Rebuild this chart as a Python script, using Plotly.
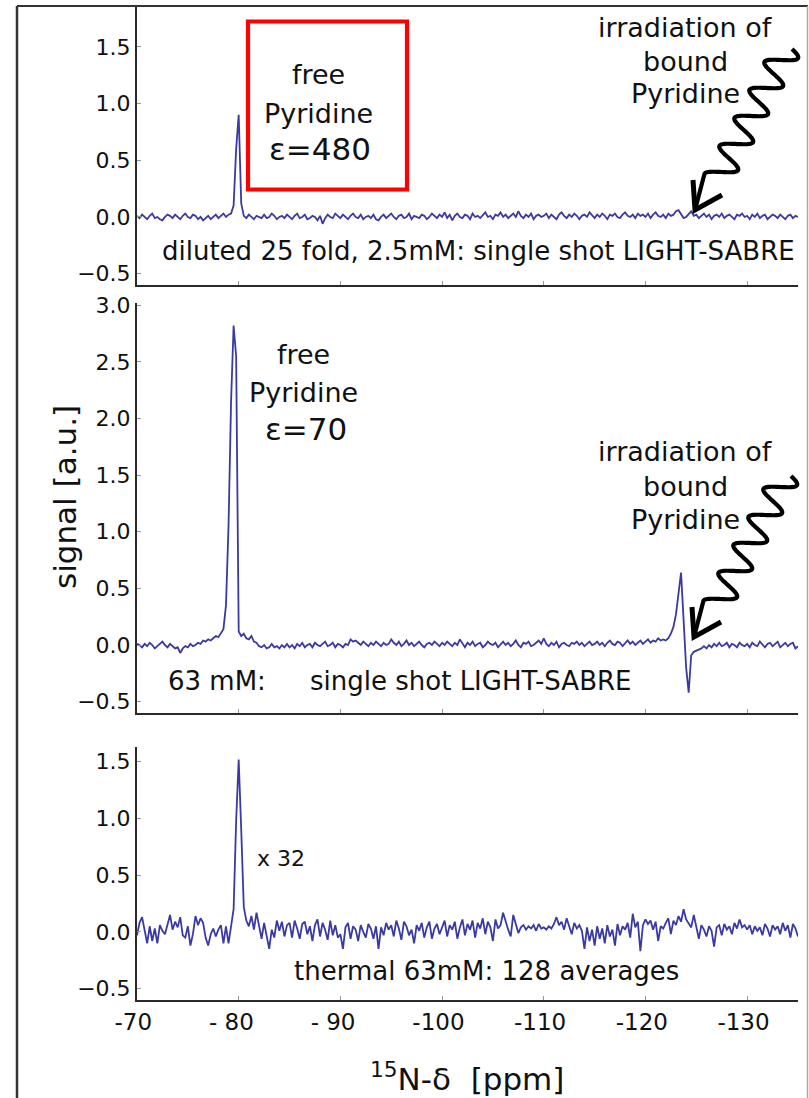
import numpy as np
import plotly.graph_objects as go

W, H = 809, 1098

# ---------------- data ----------------
PPM_START = -70.0
PPM_STEP = -0.25   # one sample every 0.25 ppm, -70 ... -135

diluted_signal = [
    0.01, -0.01, 0.02, 0.00, -0.02, 0.01, 0.03, -0.01, 0.00, -0.02, -0.03, 0.00, 0.02, 0.01, -0.01, 0.02, 0.00, -0.02, 0.01, 0.03,
    0.00, -0.01, 0.02, 0.01, -0.02, 0.00, -0.03, -0.01, 0.01, -0.02, 0.00, 0.02, -0.01, 0.01, 0.03, 0.00, 0.02, 0.03, 0.10, 0.60,
    0.90, 0.12, 0.01, -0.01, 0.02, 0.00, -0.02, 0.01, 0.00, -0.01, 0.02, -0.01, 0.00, 0.03, 0.01, -0.02, 0.00, 0.01, -0.01, 0.02,
    0.00, -0.02, 0.01, 0.03, -0.01, 0.00, 0.02, -0.02, -0.01, 0.01, 0.00, -0.03, 0.01, -0.06, -0.01, 0.02, 0.00, -0.01, 0.03, 0.01,
    -0.01, 0.02, 0.00, -0.02, 0.01, 0.03, 0.00, -0.01, 0.02, -0.02, 0.00, 0.01, -0.01, 0.02, -0.02, -0.03, 0.00, 0.02, -0.01, 0.01,
    0.03, 0.00, -0.02, 0.01, 0.02, -0.01, 0.00, 0.03, -0.02, 0.01, 0.00, -0.01, 0.02, 0.01, -0.02, 0.00, 0.03, 0.01, -0.01, 0.02,
    0.00, 0.04, -0.01, 0.02, -0.03, 0.01, 0.03, 0.00, -0.01, 0.02, 0.01, -0.02, 0.03, 0.00, 0.01, -0.01, 0.02, 0.04, 0.00, 0.01,
    -0.02, 0.02, 0.01, 0.04, 0.00, 0.02, -0.01, 0.01, 0.03, 0.00, 0.05, 0.01, -0.01, 0.02, 0.00, 0.03, -0.02, 0.01, 0.02, 0.00,
    0.01, 0.03, -0.01, 0.02, 0.00, -0.02, 0.02, 0.04, 0.01, -0.01, 0.02, 0.00, 0.03, 0.01, -0.02, 0.01, 0.02, 0.00, 0.04, 0.01,
    -0.01, 0.02, 0.00, 0.03, 0.01, -0.02, 0.02, 0.01, 0.03, 0.00, -0.01, 0.02, 0.04, 0.01, 0.00, 0.02, -0.01, 0.03, 0.01, 0.02,
    0.00, 0.03, -0.01, 0.02, 0.04, 0.01, 0.00, 0.02, -0.01, 0.03, 0.01, 0.02, 0.05, 0.06, 0.02, -0.01, 0.00, 0.03, 0.05, 0.01,
    0.02, -0.01, 0.01, 0.03, 0.00, 0.02, -0.02, 0.01, 0.02, 0.00, 0.03, -0.01, 0.01, 0.02, 0.00, -0.02, 0.02, 0.01, 0.03, 0.00,
    0.01, -0.02, 0.02, 0.00, 0.03, -0.01, 0.01, 0.02, -0.02, 0.00, 0.02, 0.01, -0.01, 0.02, 0.00, -0.02, 0.01, 0.02, -0.01, 0.01,
    0.00,
]

single_shot_signal = [
    0.01, 0.00, -0.02, 0.01, -0.01, 0.02, 0.00, -0.03, -0.01, 0.01, 0.03, 0.00, -0.02, 0.01, -0.01, -0.03, -0.02, -0.07, -0.03, -0.01,
    -0.02, 0.01, -0.01, 0.00, 0.02, 0.01, 0.04, 0.03, 0.05, 0.04, 0.06, 0.08, 0.07, 0.11, 0.14, 0.35, 1.05, 2.15, 2.82, 2.55,
    0.12, 0.08, 0.10, 0.06, 0.05, 0.08, 0.03, 0.02, -0.01, -0.02, 0.00, -0.03, -0.02, 0.01, -0.02, -0.01, -0.03, 0.00, -0.02, 0.01,
    -0.02, 0.00, -0.03, 0.01, -0.01, 0.02, -0.02, 0.00, 0.01, -0.02, 0.02, 0.00, -0.01, 0.01, 0.03, -0.01, 0.00, 0.02, -0.02, 0.01,
    0.00, -0.02, 0.01, 0.00, 0.05, 0.03, 0.04, 0.02, 0.00, 0.03, 0.01, -0.01, 0.02, 0.00, 0.03, 0.01, -0.01, 0.02, 0.00, 0.01,
    0.05, 0.02, 0.00, 0.03, -0.01, 0.01, 0.04, 0.00, 0.02, -0.01, 0.01, 0.03, 0.00, -0.02, 0.01, 0.02, 0.00, 0.03, 0.01, -0.01,
    0.02, 0.00, 0.03, 0.01, -0.01, 0.02, 0.00, 0.05, 0.01, -0.02, 0.02, 0.00, 0.03, -0.01, 0.01, 0.02, -0.02, 0.00, 0.03, 0.01,
    0.00, 0.02, -0.02, 0.01, 0.03, 0.00, 0.02, -0.01, 0.01, 0.04, 0.00, -0.02, 0.02, 0.01, 0.03, -0.01, 0.00, 0.02, 0.04, 0.01,
    0.06, 0.01, -0.01, 0.02, 0.00, 0.03, -0.02, 0.01, 0.02, 0.00, -0.01, 0.02, 0.01, 0.03, 0.00, 0.02, -0.01, 0.01, 0.03, 0.00,
    0.01, 0.03, 0.00, 0.02, -0.01, 0.02, 0.04, 0.01, 0.00, 0.03, 0.02, -0.01, 0.02, 0.04, 0.01, 0.03, 0.00, 0.02, 0.04, 0.01,
    0.03, 0.05, 0.02, 0.04, 0.03, 0.06, 0.04, 0.05, 0.04, 0.06, 0.10, 0.16, 0.27, 0.45, 0.64, 0.22, -0.20, -0.42, -0.09, -0.06,
    -0.05, -0.04, -0.03, -0.01, -0.03, 0.00, -0.02, 0.01, -0.01, 0.02, -0.01, 0.00, 0.02, -0.02, 0.01, 0.00, -0.02, 0.02, 0.00, -0.01,
    0.01, -0.02, 0.02, 0.00, -0.01, 0.03, 0.00, -0.02, 0.01, 0.02, -0.01, 0.01, 0.03, -0.02, 0.00, 0.02, -0.01, 0.01, 0.02, -0.03,
    -0.01,
]

thermal_signal = [
    -0.03, 0.08, 0.13, 0.02, -0.10, 0.05, -0.08, 0.03, -0.10, 0.06, 0.01, -0.02, 0.08, 0.15, 0.02, 0.09, 0.04, 0.13, -0.03, -0.05,
    0.05, -0.12, -0.02, 0.14, 0.06, 0.12, 0.08, -0.05, -0.12, -0.02, 0.03, -0.04, 0.02, 0.06, -0.10, 0.05, -0.10, 0.04, 0.20, 0.98,
    1.52, 0.90, 0.22, 0.10, 0.05, 0.14, 0.02, 0.17, 0.04, -0.06, 0.08, -0.03, -0.15, 0.02, -0.05, 0.10, 0.01, 0.09, -0.04, 0.06,
    0.08, -0.05, 0.10, 0.03, -0.06, 0.07, 0.09, -0.02, 0.05, -0.08, 0.06, 0.11, -0.04, 0.08, 0.02, -0.07, 0.10, -0.03, 0.06, -0.05,
    -0.02, -0.15, 0.04, 0.08, -0.06, 0.05, 0.02, -0.08, 0.06, 0.00, -0.05, 0.07, 0.03, -0.06, 0.05, -0.15, 0.04, -0.03, 0.08, 0.02,
    0.06, -0.04, 0.10, 0.03, -0.07, 0.09, 0.05, -0.03, 0.02, -0.10, 0.06, 0.01, 0.08, -0.05, 0.04, 0.09, -0.06, 0.03, 0.07, -0.02,
    0.05, 0.10, -0.04, 0.06, 0.02, 0.09, -0.06, 0.04, 0.11, -0.03, 0.07, 0.02, 0.10, -0.05, 0.08, 0.03, 0.12, -0.02, 0.09, 0.04,
    -0.08, 0.11, 0.03, 0.06, 0.17, 0.09, 0.02, -0.04, 0.15, 0.07, -0.01, 0.04, 0.06, 0.02, 0.05, 0.03, 0.06, 0.01, 0.07, 0.03,
    0.04, 0.02, 0.05, 0.03, 0.07, 0.13, 0.06, 0.09, 0.02, 0.12, 0.05, -0.02, 0.08, 0.03, 0.06, 0.01, -0.15, 0.04, -0.08, 0.02,
    -0.12, 0.05, -0.06, 0.03, -0.10, 0.06, -0.04, 0.02, -0.12, 0.07, -0.03, 0.05, 0.02, 0.08, -0.05, 0.16, 0.04, 0.09, -0.17, 0.06,
    0.11, 0.07, 0.10, 0.02, 0.09, -0.08, 0.05, 0.03, 0.08, 0.12, -0.02, 0.10, 0.06, 0.14, 0.09, 0.20, 0.11, 0.07, 0.04, 0.15,
    0.03, -0.06, 0.06, 0.02, -0.04, 0.05, 0.01, -0.13, 0.04, 0.06, -0.03, 0.07, 0.02, 0.05, -0.02, 0.08, 0.03, 0.11, 0.04, 0.06,
    0.02, 0.06, -0.02, 0.05, 0.01, 0.04, -0.03, 0.07, 0.03, -0.04, 0.06, 0.02, 0.05, -0.02, 0.08, 0.01, 0.06, -0.05, 0.07, 0.03,
    -0.04,
]

x_tick_vals = [-70, -80, -90, -100, -110, -120, -130]
x_tick_text = ["-70", "- 80", "- 90", "-100", "-110", "-120", "-130"]
y_tick_vals_small = [-0.5, 0.0, 0.5, 1.0, 1.5]
y_tick_text_small = ["\u22120.5", "0.0", "0.5", "1.0", "1.5"]
y_tick_vals_big = [-0.5, 0.0, 0.5, 1.0, 1.5, 2.0, 2.5, 3.0]
y_tick_text_big = ["\u22120.5", "0.0", "0.5", "1.0", "1.5", "2.0", "2.5", "3.0"]

# ---------------- styling ----------------
FONT = "DejaVu Sans"
LINE_COLOR = "#3a3aa2"
AXIS_COLOR = "#2a2a2a"


def ppm_axis(n):
    return [round(PPM_START + PPM_STEP * i, 2) for i in range(n)]


def px(x):
    return x / W


def py(y):
    return 1 - y / H


# centre the digits on each tick: pad right by the width of the leading "-" / "- "
def pad_label(t):
    lead = len(t) - len(t.lstrip("- "))
    return t + "\u00a0" * max(1, lead)


x_tick_text_padded = [pad_label(t) for t in x_tick_text]

X_DOMAIN = [px(137), px(798)]
panels = [
    dict(sig=diluted_signal, top=6, bottom=285, rng=[-0.6, 1.86],
         tv=y_tick_vals_small, tt=y_tick_text_small),
    dict(sig=single_shot_signal, top=303, bottom=713, rng=[-0.6, 3.02],
         tv=y_tick_vals_big, tt=y_tick_text_big),
    dict(sig=thermal_signal, top=747, bottom=1000, rng=[-0.6, 1.63],
         tv=y_tick_vals_small, tt=y_tick_text_small),
]

fig = go.Figure()
layout = dict(
    width=W, height=H,
    margin=dict(l=0, r=0, t=0, b=0),
    paper_bgcolor="white", plot_bgcolor="white",
    showlegend=False,
    font=dict(family=FONT, color="#111"),
)

for i, p in enumerate(panels, start=1):
    xa = "x" if i == 1 else f"x{i}"
    ya = "y" if i == 1 else f"y{i}"
    fig.add_trace(go.Scatter(
        x=ppm_axis(len(p["sig"])), y=p["sig"], mode="lines",
        line=dict(color=LINE_COLOR, width=1.8),
        xaxis=xa, yaxis=ya, hoverinfo="skip",
    ))
    xkey = "xaxis" if i == 1 else f"xaxis{i}"
    ykey = "yaxis" if i == 1 else f"yaxis{i}"
    layout[xkey] = dict(
        domain=X_DOMAIN, range=[-70, -135], anchor=ya,
        showline=True, linecolor=AXIS_COLOR, linewidth=2,
        ticks="inside", ticklen=4, tickcolor="#999", tickwidth=1,
        tickmode="array", tickvals=x_tick_vals, ticktext=x_tick_text_padded,
        showticklabels=(i == 3),
        tickfont=dict(family=FONT, size=23, color="#111"),
        showgrid=False, zeroline=False, automargin=False, fixedrange=True,
    )
    layout[ykey] = dict(
        domain=[py(p["bottom"]), py(p["top"])], range=p["rng"], anchor=xa,
        showline=True, linecolor=AXIS_COLOR, linewidth=2,
        ticks="inside", ticklen=4, tickcolor="#999", tickwidth=1,
        tickmode="array", tickvals=p["tv"], ticktext=p["tt"],
        tickfont=dict(family=FONT, size=22, color="#111"),
        showgrid=False, zeroline=False, automargin=False, fixedrange=True,
    )

fig.update_layout(**layout)


def ann(text, x, y, size, **kw):
    fig.add_annotation(
        text=text, x=px(x), y=py(y), xref="paper", yref="paper",
        xanchor=kw.pop("xanchor", "center"), yanchor="middle",
        showarrow=False, font=dict(family=FONT, size=size, color="#111"), **kw)


# panel 1 labels
ann("free", 318, 74, 27)
ann("Pyridine", 318, 113, 27)
ann("\u03b5=480", 320, 149, 31)
ann("irradiation of", 685, 27, 27)
ann("bound", 685, 61, 27)
ann("Pyridine", 685, 94, 27)
ann("diluted 25 fold, 2.5mM: single shot LIGHT-SABRE", 478, 251, 26)
# panel 2 labels
ann("free", 303, 354, 27)
ann("Pyridine", 303, 392, 27)
ann("\u03b5=70", 306, 429, 31)
ann("irradiation of", 685, 452, 27)
ann("bound", 685, 486, 27)
ann("Pyridine", 685, 520, 27)
ann("63 mM:", 217, 681, 26)
ann("single shot LIGHT-SABRE", 470, 681, 26)
# panel 3 labels
ann("x 32", 281, 858, 22)
ann("thermal 63mM: 128 averages", 486, 971, 26)
# axis titles
ann("signal [a.u.]", 65, 497, 31, textangle=-90)
ann("<sup>15</sup>N-\u03b4\u00a0\u00a0[ppm]", 467, 1077, 31)

shapes = []
# outer frame
shapes.append(dict(type="line", xref="paper", yref="paper", x0=px(17), x1=px(17), y0=py(6), y1=py(H + 2),
                   line=dict(color="#333", width=2.5)))
shapes.append(dict(type="line", xref="paper", yref="paper", x0=px(17), x1=px(808), y0=py(6), y1=py(6),
                   line=dict(color="#333", width=2)))
shapes.append(dict(type="line", xref="paper", yref="paper", x0=px(807.5), x1=px(807.5), y0=py(6), y1=py(H + 2),
                   line=dict(color="#aaa", width=1.5)))
# red box
shapes.append(dict(type="rect", xref="paper", yref="paper", x0=px(248), x1=px(407), y0=py(189.5), y1=py(21.5),
                   line=dict(color="#ff0000", width=4.2)))


def wavy_arrow(dx, dy):
    # decorative "irradiation" squiggle (pixel geometry of the drawing)
    s = np.linspace(-0.2, 4.5, 240)
    cx = 785.0 - 15.0 * s
    cy = 53.0 + 28.0 * s
    off = 14.0 * np.cos(2 * np.pi * s)
    xs = cx + off * 0.93 + dx
    ys = cy + off * 0.37 + dy
    tip = (695.0 + dx, 210.0 + dy)
    pts = list(zip(xs, ys)) + [tip]
    path = "M " + " L ".join(f"{px(x):.5f},{py(y):.5f}" for x, y in pts)
    shaft = dict(type="path", xref="paper", yref="paper", path=path,
                 line=dict(color="black", width=4.2))
    arm1 = (693.0 + dx, 180.0 + dy)
    arm2 = (722.0 + dx, 195.0 + dy)
    head_path = (f"M {px(arm1[0]):.5f},{py(arm1[1]):.5f} L {px(tip[0]):.5f},{py(tip[1]):.5f} "
                 f"L {px(arm2[0]):.5f},{py(arm2[1]):.5f}")
    head = dict(type="path", xref="paper", yref="paper", path=head_path,
                line=dict(color="black", width=5))
    return [shaft, head]


shapes += wavy_arrow(0, 0)
shapes += wavy_arrow(-1, 427)
fig.update_layout(shapes=shapes)

fig.write_html("out.html")
